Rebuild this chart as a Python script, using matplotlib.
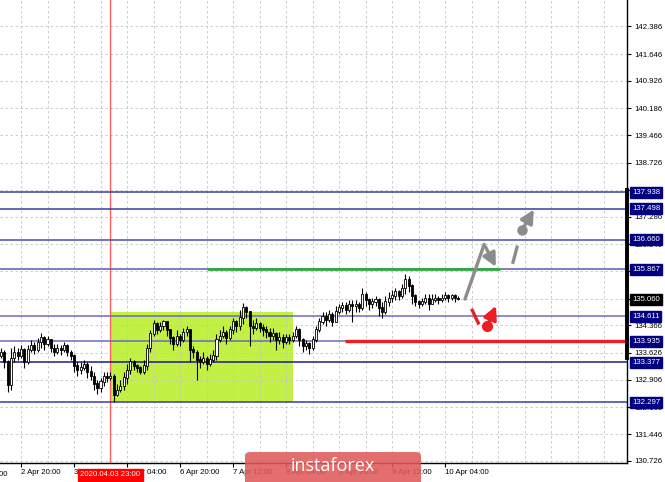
import matplotlib; matplotlib.use("Agg")
import matplotlib.pyplot as plt
import numpy as np
from matplotlib.patches import FancyBboxPatch, Rectangle
from matplotlib.transforms import blended_transform_factory

plt.rcParams.update({"font.family": ["Liberation Sans", "DejaVu Sans"]})

NAVY = "#000080"; GRID = "#c4c4c4"
GREENBOX = "#c3f044"; GREENLINE = "#2eaa3c"; RED = "#ee1c25"; GRAY = "#8c8c8c"

# ---- hourly USDJPY candles, bar index 0 = 2 Apr 20:00 ----
bars = np.arange(-6, 133)
first_open = 133.54
close = [133.64, 133.38, 132.76, 133.48, 133.64, 133.54, 133.70, 133.38, 133.70, 133.81,
         133.70, 133.91, 134.02, 133.86, 133.97, 133.75, 133.64, 133.75, 133.70, 133.81,
         133.64, 133.54, 133.27, 133.16, 133.22, 133.32, 133.11, 133.00, 132.79, 132.68,
         132.84, 133.00, 132.95, 133.00, 132.49, 132.62, 132.73, 132.95, 133.16, 133.38,
         133.27, 133.22, 133.11, 133.27, 133.75, 134.13, 134.40, 134.24, 134.34, 134.45,
         134.24, 134.02, 133.86, 134.07, 133.97, 134.18, 134.24, 133.70, 133.64, 133.43,
         133.38, 133.48, 133.32, 133.43, 133.54, 133.97, 134.07, 134.18, 134.02, 134.24,
         134.45, 134.34, 134.56, 134.83, 134.72, 134.34, 134.29, 134.40, 134.29, 134.24,
         134.18, 134.07, 134.13, 133.97, 134.02, 133.91, 134.02, 133.97, 134.07, 134.24,
         133.97, 133.81, 133.86, 133.75, 133.97, 134.24, 134.45, 134.61, 134.50, 134.66,
         134.45, 134.72, 134.83, 134.88, 134.77, 134.93, 134.88, 134.93, 134.83, 135.20,
         135.04, 134.93, 134.99, 135.04, 134.83, 134.72, 134.99, 135.09, 135.15, 135.26,
         135.15, 135.36, 135.58, 135.42, 135.15, 134.99, 134.93, 134.99, 135.09, 134.93,
         135.04, 135.09, 135.04, 135.09, 135.15, 135.09, 135.15, 135.09, 135.06]
high = [133.75, 133.70, 133.43, 133.75, 133.81, 133.75, 133.83, 133.75, 133.83, 133.97,
        133.91, 134.02, 134.15, 134.07, 134.07, 133.97, 133.86, 133.86, 133.83, 133.91,
        133.86, 133.70, 133.59, 133.38, 133.38, 133.43, 133.38, 133.27, 133.11, 132.89,
        132.95, 133.11, 133.11, 133.11, 133.05, 132.79, 132.89, 133.11, 133.32, 133.48,
        133.43, 133.32, 133.27, 133.43, 133.86, 134.24, 134.50, 134.45, 134.45, 134.50,
        134.40, 134.24, 134.07, 134.24, 134.13, 134.29, 134.34, 134.24, 133.81, 133.70,
        133.54, 133.64, 133.54, 133.59, 133.70, 134.13, 134.24, 134.34, 134.24, 134.34,
        134.56, 134.50, 134.77, 134.96, 134.88, 134.72, 134.50, 134.56, 134.45, 134.40,
        134.34, 134.29, 134.29, 134.18, 134.18, 134.13, 134.13, 134.13, 134.18, 134.34,
        134.29, 134.02, 133.97, 133.91, 134.07, 134.34, 134.56, 134.72, 134.72, 134.77,
        134.72, 134.88, 134.93, 134.99, 134.99, 135.04, 135.04, 135.04, 134.99, 135.36,
        135.26, 135.09, 135.09, 135.15, 135.09, 134.99, 135.15, 135.26, 135.31, 135.36,
        135.31, 135.47, 135.74, 135.68, 135.47, 135.20, 135.04, 135.09, 135.20, 135.20,
        135.20, 135.20, 135.15, 135.20, 135.26, 135.20, 135.20, 135.20, 135.15]
low = [133.48, 133.22, 132.57, 132.62, 133.38, 133.43, 133.48, 133.22, 133.32, 133.64,
       133.59, 133.64, 133.75, 133.70, 133.81, 133.64, 133.54, 133.59, 133.56, 133.64,
       133.54, 133.43, 133.11, 133.00, 133.05, 133.16, 132.95, 132.89, 132.62, 132.52,
       132.57, 132.73, 132.84, 132.89, 132.30, 132.46, 132.57, 132.62, 132.79, 133.05,
       133.16, 133.11, 133.05, 133.05, 133.16, 133.64, 134.07, 134.13, 134.18, 134.24,
       134.07, 133.86, 133.70, 133.81, 133.81, 133.91, 134.07, 133.38, 133.48, 132.89,
       133.22, 133.32, 133.16, 133.27, 133.38, 133.43, 133.91, 134.02, 133.86, 133.97,
       134.13, 134.18, 134.24, 134.40, 134.56, 133.81, 134.13, 134.24, 134.18, 134.07,
       134.02, 133.91, 133.97, 133.70, 133.86, 133.75, 133.86, 133.86, 133.91, 134.02,
       133.81, 133.64, 133.70, 133.59, 133.70, 133.91, 134.18, 134.40, 134.34, 134.45,
       134.34, 134.45, 134.66, 134.72, 134.66, 134.72, 134.45, 134.72, 134.72, 134.77,
       134.88, 134.77, 134.83, 134.88, 134.61, 134.56, 134.66, 134.88, 134.99, 135.04,
       135.04, 135.09, 135.20, 135.26, 134.93, 134.88, 134.83, 134.88, 134.93, 134.77,
       134.93, 134.99, 134.93, 134.99, 135.04, 134.99, 135.04, 134.99, 135.04]

levels = [137.938, 137.498, 136.660, 135.867, 134.611, 133.935, 133.377, 132.297]
level_colors = ["#3a3aa8", "#3a3aa8", "#4b4bb0", "#5a5ab8", "#6a6ac0", "#6a6ac0", "#1c1c80", "#3a3aa8"]
current_price = 135.060
yticks = [142.386, 141.646, 140.926, 140.186, 139.466, 138.726, 138.006, 137.286, 136.546,
          135.826, 135.086, 134.366, 133.626, 132.906, 132.166, 131.446, 130.726]
xtick_bars = [0, 16, 32, 48, 64, 80, 96, 112, 128]
xtick_labels = ["2 Apr 20:00", "3 Apr 12:00", "6 Apr 04:00", "6 Apr 20:00", "7 Apr 12:00",
                "8 Apr 04:00", "8 Apr 20:00", "9 Apr 12:00", "10 Apr 04:00"]
prev_label = (-16, "2 Apr 04:00")
grid_bars = np.arange(-8, 184, 8)
marker_bar = 27; marker_label = "2020.04.03 23:00"

# zones / drawn forecast
box_bars = (26.8, 82.0); box_prices = (132.297, 134.73)
green_seg = (56.2, 144.6, 135.867)
red_seg = (97.8, 183.0, 133.935)
scale_bar = (133.49, 138.0)
gray_path_x = [134.0, 139.8]; gray_path_y = [135.07, 136.54]
gray_head = (143.7, 135.87)
gray_dash_x = [148.5, 149.7]; gray_dash_y = [136.06, 136.46]
gray_dot = (151.2, 136.92); gray_tip = (155.2, 137.54)
red_dash_x = [136.2, 138.0]; red_dash_y = [134.77, 134.43]
red_dot = (140.7, 134.35); red_tip = (143.7, 134.96)

FS = 5.6
fig = plt.figure(figsize=(6.65, 4.82), dpi=100)
ax = fig.add_axes([0, 19/482, 627/665, 463/482])
ax.set_xlim(-6.34, 182.9); ax.set_ylim(130.672, 143.097)

# grid
for g in grid_bars:
    ax.axvline(g, color=GRID, lw=0.6, ls=(0, (3, 3)), zorder=1)
for t in yticks:
    ax.axhline(t, color=GRID, lw=0.6, ls=(0, (3, 3)), zorder=1)

ax.add_patch(Rectangle((box_bars[0], box_prices[0]), box_bars[1]-box_bars[0],
                       box_prices[1]-box_prices[0], color=GREENBOX, lw=0, zorder=0.5))
ax.axvline(marker_bar, color="#ff6060", lw=1, zorder=1.5)

for lv, c in zip(levels, level_colors):
    ax.axhline(lv, color=c, lw=1.1, zorder=2)
ax.plot(green_seg[:2], [green_seg[2]]*2, color=GREENLINE, lw=2, zorder=2.2, solid_capstyle="butt")
ax.plot(red_seg[:2], [red_seg[2]]*2, color=RED, lw=2.4, zorder=2.2, solid_capstyle="butt")

# candles
c = np.array(close); h = np.array(high); l = np.array(low)
o = np.r_[first_open, c[:-1]]
top = np.maximum(o, c); bot = np.minimum(o, c)
ax.vlines(bars, np.minimum(l, bot), np.maximum(h, top), color="black", lw=0.8, zorder=3)
up = c >= o
ax.bar(bars[up], (top-bot)[up] + 0.02, bottom=bot[up], width=0.62, color="white",
       edgecolor="black", lw=0.6, zorder=4)
ax.bar(bars[~up], (top-bot)[~up] + 0.02, bottom=bot[~up], width=0.62, color="black",
       edgecolor="black", lw=0.6, zorder=4)

# forecast arrows
head = "-|>,head_length=0.8,head_width=0.4"
ax.plot(gray_path_x, gray_path_y, color=GRAY, lw=2.4, solid_capstyle="round", zorder=5)
ax.annotate("", xy=gray_head, xytext=(gray_path_x[-1], gray_path_y[-1]), zorder=5,
            arrowprops=dict(arrowstyle=head, color=GRAY, lw=2.4))
ax.plot(gray_dash_x, gray_dash_y, color=GRAY, lw=2.4, zorder=5)
ax.plot(*gray_dot, "o", color=GRAY, ms=6.5, zorder=5)
ax.annotate("", xy=gray_tip, xytext=gray_dot, zorder=5,
            arrowprops=dict(arrowstyle=head, color=GRAY, lw=2.4))
ax.plot(red_dash_x, red_dash_y, color=RED, lw=2.4, zorder=5)
ax.plot(*red_dot, "o", color=RED, ms=7, zorder=5)
ax.annotate("", xy=red_tip, xytext=red_dot, zorder=5,
            arrowprops=dict(arrowstyle=head, color=RED, lw=2.4))

# axes styling
for sp in ["top", "left"]:
    ax.spines[sp].set_visible(False)
for sp in ["bottom", "right"]:
    ax.spines[sp].set_linewidth(1.0)
ax.yaxis.tick_right()
ax.set_yticks(yticks); ax.set_yticklabels([f"{v:.3f}" for v in yticks])
ax.set_xticks(xtick_bars); ax.set_xticklabels(xtick_labels, ha="left")
ax.tick_params(axis="y", direction="out", length=3, width=0.8, pad=2, labelsize=FS, colors="black")
ax.tick_params(axis="x", direction="out", length=3, width=0.8, pad=1.5, labelsize=FS, colors="black")
ax.plot([1, 1], scale_bar, transform=blended_transform_factory(ax.transAxes, ax.transData),
        color="black", lw=2.8, clip_on=False, zorder=6)
ax.text(prev_label[0], -0.018, prev_label[1], transform=blended_transform_factory(ax.transData, ax.transAxes),
        ha="left", va="top", fontsize=FS, clip_on=False)

# level price boxes
tr = blended_transform_factory(ax.transAxes, ax.transData)
for lv in levels:
    ax.text(1.008, lv, f"{lv:.3f}", transform=tr, ha="left", va="center", fontsize=FS, color="white",
            clip_on=False, zorder=7, bbox=dict(boxstyle="square,pad=0.25", fc=NAVY, ec=NAVY))
ax.text(1.008, current_price, f"{current_price:.3f}", transform=tr, ha="left", va="center", fontsize=FS,
        color="white", clip_on=False, zorder=7, bbox=dict(boxstyle="square,pad=0.25", fc="black", ec="black"))
ax.text(marker_bar, -0.018, marker_label, transform=blended_transform_factory(ax.transData, ax.transAxes),
        ha="center", va="top", fontsize=FS, color="white", clip_on=False, zorder=7,
        bbox=dict(boxstyle="square,pad=0.3", fc="#ff0000", ec="#ff0000"))

# watermark
fig.patches.append(FancyBboxPatch((245/665, -0.01), 176/665, 0.0722, boxstyle="round,pad=0,rounding_size=0.008",
                                  transform=fig.transFigure, fc="#e05a5a", ec="none", alpha=0.88, zorder=10))
fig.text(333/665, 16/482, "instaforex", ha="center", va="center", color="white", fontsize=13,
         family=["Open Sans", "DejaVu Sans"], zorder=11)

fig.savefig("out.png", dpi=100, facecolor="white")
